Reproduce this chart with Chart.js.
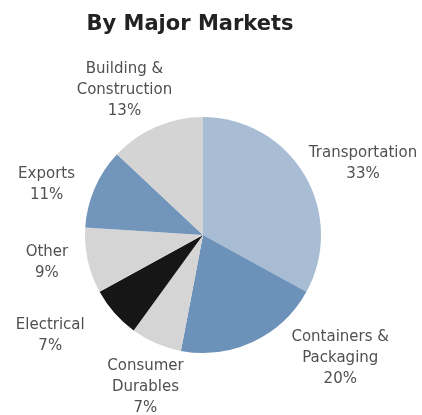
<!DOCTYPE html>
<html>
<head>
<meta charset="utf-8">
<script src="https://cdn.jsdelivr.net/npm/chart.js@4"></script>
<style>
  html, body { margin: 0; padding: 0; background: #fff; }
  #wrap { width: 422px; height: 415px; }
</style>
</head>
<body>
<div id="wrap"><canvas id="chart-area" width="422" height="415"></canvas></div>
<script>
// values, clockwise from 12 o'clock
var titleText = 'By Major Markets';
var markets = ['Transportation', 'Containers &\nPackaging', 'Consumer\nDurables', 'Electrical', 'Other', 'Exports', 'Building &\nConstruction'];
var shares = [33, 20, 7, 7, 9, 11, 13];
var sliceColors = ['#a8bdd4', '#6d92b9', '#d5d5d5', '#161616', '#d5d5d5', '#7195bb', '#d4d4d4'];

// small hand nudges so the labels sit where the original put them
var labelNudge = [[18, 13], [67, -26], [8, 1], [-29, -9], [5, -8], [-5, 15], [-13, 7]];

var sliceLabels = {
  id: 'sliceLabels',
  afterDraw: function(chart) {
    var ctx = chart.ctx;

    // title
    ctx.save();
    ctx.fillStyle = '#222';
    ctx.font = 'bold 21px "DejaVu Sans", sans-serif';
    ctx.textAlign = 'center';
    ctx.textBaseline = 'middle';
    ctx.fillText(titleText, 190, 25);

    // slice labels
    ctx.font = '15px "DejaVu Sans", sans-serif';
    ctx.fillStyle = '#505050';
    var meta = chart.getDatasetMeta(0);
    meta.data.forEach(function(arc, i) {
      var p = arc.getProps(['x', 'y', 'startAngle', 'endAngle', 'outerRadius'], true);
      var mid = (p.startAngle + p.endAngle) / 2;
      var d = p.outerRadius + 47;
      var cx = p.x + Math.cos(mid) * d + labelNudge[i][0];
      var cy = p.y + Math.sin(mid) * d + labelNudge[i][1];
      var lines = (markets[i] + '\n' + shares[i] + '%').split('\n');
      var lh = 21;
      var y0 = cy - (lines.length - 1) * lh / 2;
      lines.forEach(function(t, k) {
        ctx.fillText(t, cx, y0 + k * lh);
      });
    });
    ctx.restore();
  }
};

var config = {
  type: 'pie',
  data: {
    labels: markets,
    datasets: [{
      data: shares,
      backgroundColor: sliceColors,
      borderWidth: 0
    }]
  },
  options: {
    responsive: false,
    animation: false,
    layout: { padding: { top: 117, bottom: 62, left: 85, right: 101 } },
    plugins: {
      legend: { display: false },
      title: { display: false },
      tooltip: { enabled: false }
    }
  },
  plugins: [sliceLabels]
};

var ctx = document.getElementById('chart-area').getContext('2d');
window.myPie = new Chart(ctx, config);
</script>
</body>
</html>
